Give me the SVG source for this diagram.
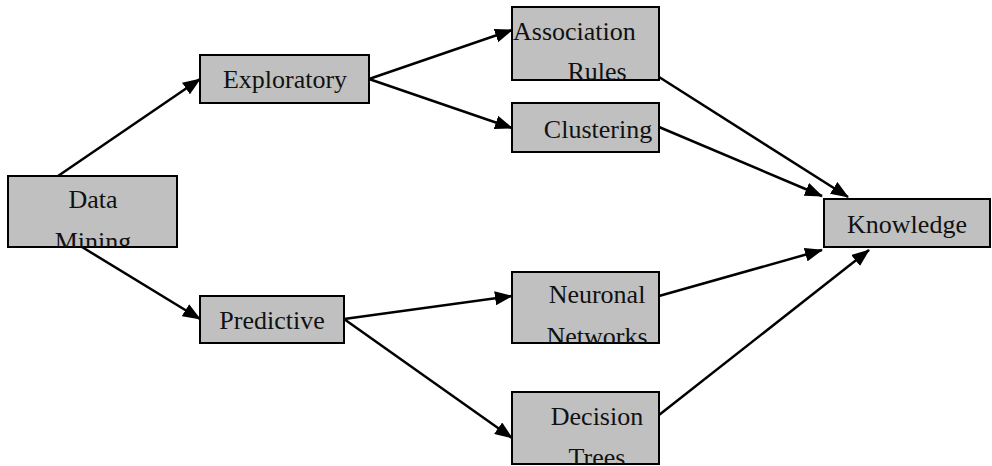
<svg xmlns="http://www.w3.org/2000/svg" width="992" height="466" viewBox="0 0 992 466">
  <style>
    .box { fill: #c0c0c0; stroke: #000; stroke-width: 2; }
    .lbl { font-family: "Liberation Serif", "Times New Roman", serif; font-size: 26px; fill: #111; }
    .mid { text-anchor: middle; }
    .edge { stroke: #000; stroke-width: 2.5; fill: none; marker-end: url(#arrow); }
  </style>
  <defs>
    <marker id="arrow" markerUnits="userSpaceOnUse" markerWidth="18" markerHeight="14" refX="17" refY="7" orient="auto">
      <path d="M0,0 L18,7 L0,14 Z" fill="#000"/>
    </marker>
    <clipPath id="c-dm"><rect x="8" y="176" width="169" height="71"/></clipPath>
    <clipPath id="c-ar"><rect x="500" y="7" width="160" height="73"/></clipPath>
    <clipPath id="c-nn"><rect x="512" y="272" width="147" height="71"/></clipPath>
    <clipPath id="c-dt"><rect x="512" y="392" width="147" height="72"/></clipPath>
  </defs>

  <rect width="992" height="466" fill="#fff"/>

  <g id="connectors">
    <line class="edge" x1="58" y1="176" x2="200" y2="79"/>
    <line class="edge" x1="82" y1="247" x2="200" y2="319"/>
    <line class="edge" x1="369" y1="79" x2="512" y2="30"/>
    <line class="edge" x1="369" y1="79" x2="512" y2="128"/>
    <line class="edge" x1="344" y1="319" x2="512" y2="296"/>
    <line class="edge" x1="344" y1="319" x2="512" y2="438"/>
    <line class="edge" x1="659" y1="77" x2="848" y2="197"/>
    <line class="edge" x1="659" y1="127" x2="822" y2="196"/>
    <line class="edge" x1="659" y1="296" x2="822" y2="250"/>
    <line class="edge" x1="659" y1="415" x2="869" y2="250"/>
  </g>

  <g id="data-mining">
    <rect class="box" x="8" y="176" width="169" height="71"/>
    <g clip-path="url(#c-dm)">
      <text class="lbl mid" x="93" y="208">Data</text>
      <text class="lbl mid" x="93" y="250">Mining</text>
    </g>
  </g>

  <g id="exploratory">
    <rect class="box" x="200" y="55" width="169" height="48"/>
    <text class="lbl mid" x="285" y="88">Exploratory</text>
  </g>

  <g id="predictive">
    <rect class="box" x="200" y="296" width="144" height="47"/>
    <text class="lbl mid" x="272" y="329">Predictive</text>
  </g>

  <g id="association-rules">
    <rect class="box" x="512" y="7" width="147" height="73"/>
    <g clip-path="url(#c-ar)">
      <text class="lbl" x="513" y="40">Association</text>
      <text class="lbl mid" x="597" y="80">Rules</text>
    </g>
  </g>

  <g id="clustering">
    <rect class="box" x="512" y="103" width="147" height="49"/>
    <text class="lbl mid" x="598" y="138">Clustering</text>
  </g>

  <g id="neuronal-networks">
    <rect class="box" x="512" y="272" width="147" height="71"/>
    <g clip-path="url(#c-nn)">
      <text class="lbl mid" x="597" y="303">Neuronal</text>
      <text class="lbl mid" x="597" y="345">Networks</text>
    </g>
  </g>

  <g id="decision-trees">
    <rect class="box" x="512" y="392" width="147" height="72"/>
    <g clip-path="url(#c-dt)">
      <text class="lbl mid" x="597" y="425">Decision</text>
      <text class="lbl mid" x="597" y="466">Trees</text>
    </g>
  </g>

  <g id="knowledge">
    <rect class="box" x="824" y="199" width="166" height="48"/>
    <text class="lbl mid" x="907" y="233">Knowledge</text>
  </g>
</svg>
